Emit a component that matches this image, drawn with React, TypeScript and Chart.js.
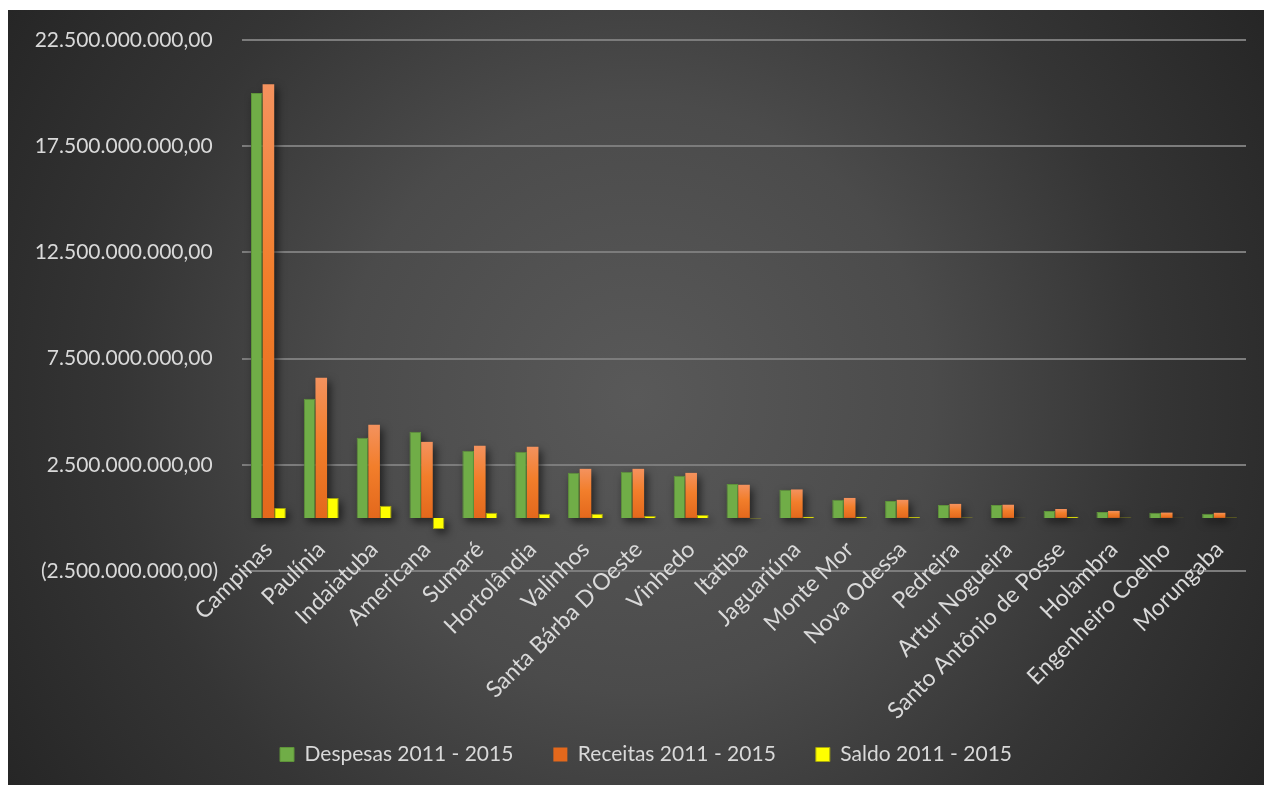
import React, { useEffect, useRef } from "react";
import { Chart, registerables } from "chart.js";

Chart.register(...registerables);

const categories: string[] = [
  "Campinas",
  "Paulínia",
  "Indaiatuba",
  "Americana",
  "Sumaré",
  "Hortolândia",
  "Valinhos",
  "Santa Bárba D'Oeste",
  "Vinhedo",
  "Itatiba",
  "Jaguariúna",
  "Monte Mor",
  "Nova Odessa",
  "Pedreira",
  "Artur Nogueira",
  "Santo Antônio de Posse",
  "Holambra",
  "Engenheiro Coelho",
  "Morungaba",
];

const despesas: number[] = [
  20.0e9, 5.61e9, 3.77e9, 4.06e9, 3.16e9, 3.11e9, 2.12e9, 2.17e9, 1.98e9, 1.6e9,
  1.32e9, 0.85e9, 0.8e9, 0.61e9, 0.61e9, 0.33e9, 0.28e9, 0.24e9, 0.2e9,
];

const receitas: number[] = [
  20.42e9, 6.6e9, 4.39e9, 3.58e9, 3.4e9, 3.35e9, 2.31e9, 2.31e9, 2.12e9, 1.56e9,
  1.34e9, 0.94e9, 0.85e9, 0.66e9, 0.62e9, 0.42e9, 0.33e9, 0.25e9, 0.24e9,
];

const saldo: number[] = [
  0.47e9, 0.94e9, 0.57e9, -0.52e9, 0.24e9, 0.19e9, 0.19e9, 0.09e9, 0.14e9, -0.03e9,
  0.05e9, 0.05e9, 0.04e9, 0.02e9, 0.01e9, 0.05e9, 0.02e9, 0.01e9, 0.02e9,
];

const seriesNames: string[] = [
  "Despesas 2011 - 2015",
  "Receitas 2011 - 2015",
  "Saldo 2011 - 2015",
];

const Y_MIN = -2.5e9;
const Y_MAX = 22.5e9;
const Y_STEP = 5e9;

const TEXT = "#d9d9d9";
const FONT = "Lato";

function formatBR(v: number): string {
  const n = Math.round(Math.abs(v));
  const s = String(n).replace(/\B(?=(\d{3})+(?!\d))/g, ".") + ",00";
  return v < 0 ? "(" + s + ")" : s + " ";
}

const shadowPlugin = {
  id: "barShadows",
  beforeDatasetsDraw(chart: any) {
    const ctx = chart.ctx as CanvasRenderingContext2D;
    const area = chart.chartArea;
    ctx.save();
    ctx.beginPath();
    ctx.rect(area.left, area.top, area.right - area.left + 20, area.bottom - area.top + 20);
    ctx.clip();
    const OFF = 10000;
    ctx.shadowColor = "rgba(0,0,0,0.6)";
    ctx.shadowBlur = 8;
    ctx.shadowOffsetX = OFF + 3;
    ctx.shadowOffsetY = 4;
    ctx.fillStyle = "#000";
    chart.data.datasets.forEach((_d: any, di: number) => {
      const meta = chart.getDatasetMeta(di);
      if (meta.hidden) return;
      meta.data.forEach((el: any) => {
        const p = el.getProps(["x", "y", "base", "width"], true);
        const top = Math.min(p.y, p.base);
        const h = Math.abs(p.base - p.y);
        if (h < 0.5) return;
        ctx.fillRect(p.x - p.width / 2 - OFF, top, p.width, h);
      });
    });
    ctx.restore();
  },
};

// shift the legend block a little to the right, like the original layout
const legendShiftPlugin = {
  id: "legendShift",
  afterLayout(chart: any) {
    if (chart.legend) chart.legend.left += 38;
  },
};

function orangeFill(c: any) {
  const chart = c.chart;
  if (!chart.chartArea || c.type !== "data" || !chart.scales || !chart.scales.y) return "#F07A2C";
  const ys = chart.scales.y;
  const v = c.raw as number;
  const top = ys.getPixelForValue(Math.max(v, 0));
  const bot = ys.getPixelForValue(Math.min(v, 0));
  if (!isFinite(top) || !isFinite(bot) || bot - top < 1) return "#F07A2C";
  const g = chart.ctx.createLinearGradient(0, top, 0, bot);
  g.addColorStop(0, "#F4925E");
  g.addColorStop(0.45, "#F27E2B");
  g.addColorStop(1, "#E3681C");
  return g;
}

export default function App() {
  const canvasRef = useRef<HTMLCanvasElement | null>(null);

  useEffect(() => {
    if (!canvasRef.current) return;
    const chart = new Chart(canvasRef.current, {
      type: "bar",
      data: {
        labels: categories,
        datasets: [
          {
            label: seriesNames[0],
            data: despesas,
            backgroundColor: "#70AD47",
            borderColor: "#5E9339",
            borderWidth: 1,
          },
          {
            label: seriesNames[1],
            data: receitas,
            backgroundColor: orangeFill,
            borderWidth: 0,
          },
          {
            label: seriesNames[2],
            data: saldo,
            backgroundColor: "#FFFF00",
            borderColor: "#A6A60E",
            borderWidth: 1,
          },
        ],
      },
      plugins: [shadowPlugin, legendShiftPlugin],
      options: {
        animation: false,
        responsive: true,
        maintainAspectRatio: false,
        datasets: {
          bar: {
            categoryPercentage: 0.66,
            barPercentage: 1.0,
          },
        },
        layout: {
          padding: { top: 30, right: 18, bottom: 10, left: 0 },
        },
        plugins: {
          tooltip: { enabled: false },
          subtitle: {
            display: true,
            text: " ",
            position: "bottom",
            weight: 500,
            font: { size: 10 },
            padding: { top: 121, bottom: 0 },
          } as any,
          legend: {
            position: "bottom",
            labels: {
              color: TEXT,
              font: { family: FONT, size: 21 },
              boxWidth: 14,
              boxHeight: 14,
              padding: 40,
            },
          },
        },
        scales: {
          x: {
            position: { y: 0 } as any,
            grid: { display: false, drawTicks: false },
            border: { display: false },
            ticks: {
              color: TEXT,
              font: { family: FONT, size: 23 },
              minRotation: 45,
              maxRotation: 45,
              autoSkip: false,
              padding: 18,
            },
          },
          y: {
            min: Y_MIN,
            max: Y_MAX,
            grid: {
              color: "#7c7c7c",
              lineWidth: 2,
              drawTicks: true,
              tickLength: 24,
              tickColor: "rgba(0,0,0,0)",
            },
            border: { display: false },
            ticks: {
              stepSize: Y_STEP,
              color: TEXT,
              font: { family: FONT, size: 21 },
              padding: 0,
              callback: (v: any) => formatBR(Number(v)),
            },
            afterFit: (s: any) => {
              s.width = 234;
            },
          },
        },
      },
    });
    return () => chart.destroy();
  }, []);

  return (
    <div
      style={{
        position: "fixed",
        left: 8,
        top: 10,
        width: 1256,
        height: 775,
        background:
          "radial-gradient(circle farthest-corner at 50% 50%, #595959 0%, #4b4b4b 40%, #353535 70%, #262626 100%)",
      }}
    >
      <canvas ref={canvasRef} />
    </div>
  );
}
